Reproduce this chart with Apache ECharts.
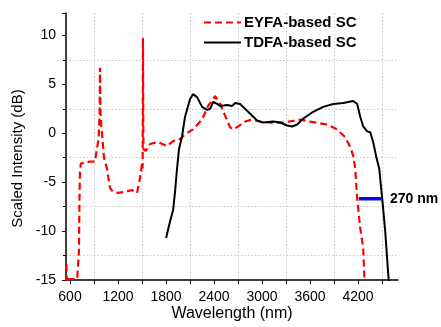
<!DOCTYPE html>
<html>
<head>
<meta charset="utf-8">
<script src="https://cdn.jsdelivr.net/npm/echarts@6/dist/echarts.min.js"></script>
<style>
  html, body { margin: 0; padding: 0; background: #fff; }
  #main { width: 441px; height: 327px; }
</style>
</head>
<body>
<div id="main"></div>
<script>
// EYFA-based supercontinuum (red dashed)
const eyfaX = [556, 560, 580, 690, 712, 718, 724, 735, 780, 850, 912, 937, 958, 970, 975, 980, 990, 1005,
  1025, 1062, 1100, 1140, 1188, 1290, 1375, 1438, 1475, 1500, 1508, 1512, 1518, 1545, 1600, 1700, 1813,
  1888, 1976, 2038, 2138, 2251, 2326, 2414, 2476, 2539, 2601, 2639, 2701, 2789, 2877, 2977, 3102, 3264,
  3477, 3602, 3815, 3940, 4040, 4103, 4140, 4165, 4190, 4228, 4265, 4278, 4285];
const eyfaY = [-13.4, -15.3, -14.9, -14.9, -12, -7, -4, -3.1, -3.0, -2.9, -2.9, -1.6, -0.5, 2, 6.7, 2.5, 0.8, -0.5,
  -2.5, -3.6, -5.6, -6.0, -6.1, -6.0, -5.8, -6.1, -4.6, -3.1, -3.6, 9.75, -1.6, -1.8, -1.1, -0.9, -1.3,
  -0.8, -0.6, -0.1, 0.4, 1.4, 2.8, 3.8, 3.0, 1.8, 0.6, 0.4, 0.7, 1.2, 1.4, 1.2, 1.1, 1.1,
  1.4, 1.2, 0.9, 0.4, -0.4, -1.4, -2.3, -3.6, -6.7, -9.7, -11.7, -14.5, -15.5];

// TDFA-based supercontinuum (black solid)
const tdfaX = [1801, 1851, 1888, 1913, 1938, 1963, 2001, 2038, 2101, 2138, 2188, 2251, 2314, 2351, 2389, 2439,
  2476, 2564, 2626, 2664, 2726, 2789, 2852, 2939, 3014, 3139, 3227, 3314, 3377, 3440, 3515, 3640, 3765,
  3890, 4015, 4140, 4190, 4228, 4265, 4315, 4353, 4390, 4428, 4465, 4503, 4540, 4578, 4590];
const tdfaY = [-10.7, -9.0, -7.9, -6.0, -3.6, -1.6, -0.3, 1.7, 3.5, 4.0, 3.7, 2.7, 2.4, 2.5, 3.2, 3.0,
  2.8, 2.9, 2.8, 3.1, 3.0, 2.5, 2.0, 1.3, 1.1, 1.2, 1.1, 0.8, 0.7, 0.9, 1.5, 2.2, 2.7,
  3.0, 3.1, 3.3, 3.0, 1.7, 0.7, 0.2, 0.1, -0.9, -2.4, -3.6, -6.7, -10.0, -14.4, -15.5];

// bandwidth difference marker
const widthX = [4212, 4500];
const widthY = [-6.7, -6.7];
const widthLabel = '270 nm';

const xLabelValues = [600, 1200, 1800, 2400, 3000, 3600, 4200];
const xGridValues = [900, 1500, 2100, 2700, 3300, 3900, 4500];

function pairs(xs, ys) {
  return xs.map(function (x, i) { return [x, ys[i]]; });
}

const FONT = 'Liberation Sans';
var chartDom = document.getElementById('main');
var myChart = echarts.init(chartDom);
var option = {
  animation: false,
  textStyle: { fontFamily: FONT },
  grid: { left: 66, right: 43, top: 13, bottom: 45 },
  legend: {
    data: ['EYFA-based SC', 'TDFA-based SC'],
    orient: 'vertical',
    left: 203,
    top: 15,
    padding: 0,
    itemWidth: 37,
    itemHeight: 14,
    itemGap: 5,
    itemStyle: { opacity: 0 },
    textStyle: { fontFamily: FONT, fontSize: 15, fontWeight: 'bold', color: '#000', padding: [0, 0, 0, -2] }
  },
  xAxis: [
    {
      type: 'value',
      min: 550,
      max: 4700,
      name: 'Wavelength (nm)',
      nameLocation: 'middle',
      nameGap: 26,
      nameTextStyle: { fontFamily: FONT, fontSize: 16, color: '#000' },
      axisLine: { show: true, onZero: false, lineStyle: { color: '#000', width: 1.5 } },
      axisTick: { show: true, length: 4, customValues: xGridValues, lineStyle: { color: '#000' } },
      axisLabel: { show: false },
      splitLine: { show: true, lineStyle: { color: '#c8c8c8', type: [1.5, 2] } }
    },
    {
      type: 'value',
      min: 550,
      max: 4700,
      position: 'bottom',
      axisLine: { show: false, onZero: false },
      axisTick: { show: true, length: 4, customValues: xLabelValues, lineStyle: { color: '#000' } },
      axisLabel: {
        customValues: xLabelValues,
        formatter: function (v) { return String(v); },
        fontFamily: FONT, fontSize: 14, color: '#000', margin: 10
      },
      splitLine: { show: false }
    }
  ],
  yAxis: {
    type: 'value',
    min: -15,
    max: 12.3,
    interval: 5,
    name: 'Scaled Intensity (dB)',
    nameLocation: 'middle',
    nameGap: 36,
    nameTextStyle: { fontFamily: FONT, fontSize: 15, color: '#000', padding: [0, 24, 0, 0] },
    axisLine: { show: true, onZero: false, lineStyle: { color: '#000', width: 1.5 } },
    axisTick: { show: true, length: 4, lineStyle: { color: '#000' } },
    minorTick: { show: true, splitNumber: 2, length: 3, lineStyle: { color: '#000' } },
    axisLabel: { fontFamily: FONT, fontSize: 14, color: '#000', margin: 10, showMaxLabel: false },
    splitLine: { show: false },
    minorSplitLine: { show: true, lineStyle: { color: '#c8c8c8', type: [1.5, 2] } }
  },
  series: [
    {
      name: 'EYFA-based SC',
      type: 'line',
      symbol: 'none',
      data: pairs(eyfaX, eyfaY),
      itemStyle: { color: '#ff0000' },
      lineStyle: { color: '#ff0000', width: 2.2, type: [7, 4] }
    },
    {
      name: 'TDFA-based SC',
      type: 'line',
      symbol: 'none',
      data: pairs(tdfaX, tdfaY),
      itemStyle: { color: '#000' },
      lineStyle: { color: '#000', width: 2 }
    },
    {
      name: 'width',
      type: 'line',
      symbol: 'none',
      data: pairs(widthX, widthY),
      lineStyle: { color: '#0a0ae6', width: 3.5 },
      endLabel: {
        show: true,
        formatter: widthLabel,
        distance: 8,
        fontFamily: FONT,
        fontSize: 14,
        fontWeight: 'bold',
        color: '#000'
      }
    }
  ]
};

option && myChart.setOption(option);
</script>
</body>
</html>
